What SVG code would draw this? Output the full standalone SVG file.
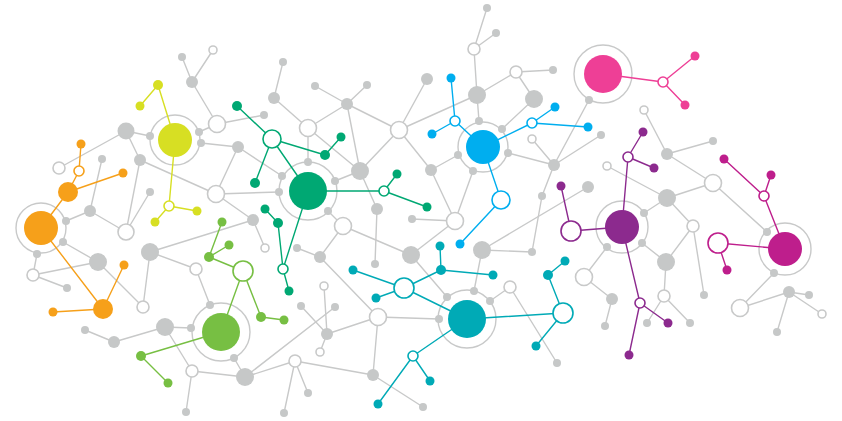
<svg xmlns="http://www.w3.org/2000/svg" width="842" height="421" viewBox="0 0 842 421">
<style>
line{stroke-width:1.4;stroke-linecap:round}
.e line{stroke:#c8c9c9}
.eo{stroke:#f6a01a}.ey{stroke:#d7df23}.el{stroke:#77bf43}.ed{stroke:#00a873}.eb{stroke:#00aeef}.et{stroke:#00aab6}.ep{stroke:#ee3f96}.eu{stroke:#8c2a8e}.em{stroke:#be1e8c}
.g{fill:#c6c8c8}
.h{fill:#fff;stroke:#c8c9c9;stroke-width:1.6}
.r{fill:none;stroke:#c8c9c9;stroke-width:1.4}
.fo{fill:#f6a01a}.fy{fill:#d7df23}.fl{fill:#77bf43}.fd{fill:#00a873}.fb{fill:#00aeef}.ft{fill:#00aab6}.fp{fill:#ee3f96}.fu{fill:#8c2a8e}.fm{fill:#be1e8c}
.ho{fill:#fff;stroke:#f6a01a;stroke-width:1.6}.hy{fill:#fff;stroke:#d7df23;stroke-width:1.6}.hl{fill:#fff;stroke:#77bf43;stroke-width:1.6}.hd{fill:#fff;stroke:#00a873;stroke-width:1.6}.hb{fill:#fff;stroke:#00aeef;stroke-width:1.6}.ht{fill:#fff;stroke:#00aab6;stroke-width:1.6}.hp{fill:#fff;stroke:#ee3f96;stroke-width:1.6}.hu{fill:#fff;stroke:#8c2a8e;stroke-width:1.6}.hm{fill:#fff;stroke:#be1e8c;stroke-width:1.6}
</style>
<g id="rings">
<circle class="r" cx="41" cy="228" r="25"/>
<circle class="r" cx="175" cy="140" r="25"/>
<circle class="r" cx="221" cy="332" r="29"/>
<circle class="r" cx="308" cy="191" r="29"/>
<circle class="r" cx="483" cy="147" r="25"/>
<circle class="r" cx="467" cy="319" r="29"/>
<circle class="r" cx="603" cy="74" r="29"/>
<circle class="r" cx="622" cy="227" r="26"/>
<circle class="r" cx="785" cy="249" r="26"/>
</g>
<g id="connectors">
<g class="e">
<line x1="182" y1="57" x2="192" y2="82"/><line x1="213" y1="50" x2="192" y2="82"/><line x1="192" y1="82" x2="217" y2="124"/><line x1="217" y1="124" x2="264" y2="115"/><line x1="217" y1="124" x2="199" y2="132"/>
<line x1="126" y1="131" x2="150" y2="136"/><line x1="126" y1="131" x2="59" y2="168"/><line x1="126" y1="131" x2="140" y2="160"/><line x1="140" y1="160" x2="216" y2="194"/><line x1="140" y1="160" x2="126" y2="232"/>
<line x1="102" y1="159" x2="90" y2="211"/><line x1="66" y1="221" x2="90" y2="211"/><line x1="90" y1="211" x2="126" y2="232"/><line x1="126" y1="232" x2="150" y2="192"/>
<line x1="201" y1="143" x2="238" y2="147"/><line x1="238" y1="147" x2="216" y2="194"/><line x1="238" y1="147" x2="282" y2="176"/><line x1="216" y1="194" x2="279" y2="192"/><line x1="216" y1="194" x2="253" y2="220"/>
<line x1="253" y1="220" x2="265" y2="248"/><line x1="253" y1="220" x2="150" y2="252"/><line x1="150" y1="252" x2="196" y2="269"/><line x1="150" y1="252" x2="143" y2="307"/><line x1="98" y1="262" x2="143" y2="307"/>
<line x1="63" y1="242" x2="98" y2="262"/><line x1="33" y1="275" x2="98" y2="262"/><line x1="37" y1="254" x2="33" y2="275"/><line x1="33" y1="275" x2="67" y2="288"/><line x1="196" y1="269" x2="210" y2="305"/>
<line x1="165" y1="327" x2="191" y2="328"/><line x1="165" y1="327" x2="114" y2="342"/><line x1="114" y1="342" x2="85" y2="330"/><line x1="165" y1="327" x2="192" y2="371"/><line x1="192" y1="371" x2="245" y2="377"/>
<line x1="192" y1="371" x2="186" y2="412"/><line x1="234" y1="358" x2="245" y2="377"/><line x1="245" y1="377" x2="295" y2="361"/><line x1="245" y1="377" x2="335" y2="307"/><line x1="295" y1="361" x2="308" y2="393"/>
<line x1="295" y1="361" x2="284" y2="413"/><line x1="295" y1="361" x2="373" y2="375"/><line x1="373" y1="375" x2="423" y2="407"/><line x1="378" y1="317" x2="373" y2="375"/><line x1="327" y1="334" x2="378" y2="317"/>
<line x1="301" y1="306" x2="327" y2="334"/><line x1="324" y1="286" x2="327" y2="334"/><line x1="327" y1="334" x2="320" y2="352"/><line x1="378" y1="317" x2="439" y2="319"/><line x1="320" y1="257" x2="378" y2="317"/>
<line x1="320" y1="257" x2="297" y2="248"/><line x1="320" y1="257" x2="343" y2="226"/><line x1="343" y1="226" x2="328" y2="211"/><line x1="343" y1="226" x2="411" y2="255"/><line x1="377" y1="209" x2="375" y2="264"/>
<line x1="360" y1="171" x2="377" y2="209"/><line x1="411" y1="255" x2="455" y2="221"/><line x1="412" y1="219" x2="455" y2="221"/><line x1="411" y1="255" x2="447" y2="297"/><line x1="455" y1="221" x2="431" y2="170"/>
<line x1="455" y1="221" x2="473" y2="171"/><line x1="431" y1="170" x2="458" y2="155"/><line x1="431" y1="170" x2="399" y2="130"/><line x1="399" y1="130" x2="477" y2="95"/><line x1="399" y1="130" x2="427" y2="79"/>
<line x1="399" y1="130" x2="347" y2="104"/><line x1="399" y1="130" x2="360" y2="171"/><line x1="347" y1="104" x2="315" y2="86"/><line x1="347" y1="104" x2="367" y2="85"/><line x1="347" y1="104" x2="308" y2="128"/>
<line x1="347" y1="104" x2="360" y2="171"/><line x1="308" y1="128" x2="360" y2="171"/><line x1="308" y1="128" x2="274" y2="98"/><line x1="274" y1="98" x2="283" y2="62"/><line x1="308" y1="128" x2="308" y2="162"/>
<line x1="335" y1="181" x2="360" y2="171"/><line x1="487" y1="8" x2="474" y2="49"/><line x1="496" y1="33" x2="474" y2="49"/><line x1="474" y1="49" x2="477" y2="95"/><line x1="477" y1="95" x2="516" y2="72"/>
<line x1="516" y1="72" x2="553" y2="70"/><line x1="516" y1="72" x2="534" y2="99"/><line x1="477" y1="95" x2="479" y2="121"/><line x1="534" y1="99" x2="502" y2="129"/><line x1="508" y1="153" x2="554" y2="165"/>
<line x1="532" y1="139" x2="554" y2="165"/><line x1="554" y1="165" x2="589" y2="100"/><line x1="554" y1="165" x2="601" y2="135"/><line x1="554" y1="165" x2="542" y2="196"/><line x1="542" y1="196" x2="532" y2="252"/>
<line x1="482" y1="250" x2="588" y2="187"/><line x1="482" y1="250" x2="532" y2="252"/><line x1="482" y1="250" x2="474" y2="291"/><line x1="490" y1="301" x2="510" y2="287"/><line x1="510" y1="287" x2="557" y2="363"/>
<line x1="607" y1="166" x2="667" y2="198"/><line x1="644" y1="110" x2="667" y2="154"/><line x1="667" y1="154" x2="713" y2="141"/><line x1="667" y1="154" x2="713" y2="183"/><line x1="667" y1="198" x2="713" y2="183"/>
<line x1="713" y1="183" x2="767" y2="232"/><line x1="667" y1="198" x2="693" y2="226"/><line x1="644" y1="213" x2="667" y2="198"/><line x1="607" y1="247" x2="584" y2="277"/><line x1="584" y1="277" x2="612" y2="299"/>
<line x1="612" y1="299" x2="605" y2="326"/><line x1="642" y1="243" x2="666" y2="262"/><line x1="666" y1="262" x2="693" y2="226"/><line x1="666" y1="262" x2="664" y2="296"/><line x1="664" y1="296" x2="647" y2="323"/>
<line x1="664" y1="296" x2="690" y2="323"/><line x1="693" y1="226" x2="704" y2="295"/><line x1="774" y1="273" x2="740" y2="308"/><line x1="740" y1="308" x2="789" y2="292"/><line x1="789" y1="292" x2="809" y2="295"/>
<line x1="789" y1="292" x2="822" y2="314"/><line x1="789" y1="292" x2="777" y2="332"/>
</g>
<g class="eo"><line x1="68" y1="192" x2="41" y2="228"/><line x1="68" y1="192" x2="79" y2="171"/><line x1="79" y1="171" x2="81" y2="144"/><line x1="68" y1="192" x2="123" y2="173"/><line x1="41" y1="228" x2="103" y2="309"/><line x1="103" y1="309" x2="124" y2="265"/><line x1="103" y1="309" x2="53" y2="312"/></g>
<g class="ey"><line x1="158" y1="85" x2="140" y2="106"/><line x1="158" y1="85" x2="175" y2="140"/><line x1="175" y1="140" x2="169" y2="206"/><line x1="169" y1="206" x2="155" y2="222"/><line x1="169" y1="206" x2="197" y2="211"/></g>
<g class="el"><line x1="222" y1="222" x2="209" y2="257"/><line x1="229" y1="245" x2="209" y2="257"/><line x1="209" y1="257" x2="243" y2="271"/><line x1="243" y1="271" x2="221" y2="332"/><line x1="243" y1="271" x2="261" y2="317"/><line x1="261" y1="317" x2="284" y2="320"/><line x1="141" y1="356" x2="221" y2="332"/><line x1="141" y1="356" x2="168" y2="383"/></g>
<g class="ed"><line x1="237" y1="106" x2="272" y2="139"/><line x1="272" y1="139" x2="325" y2="155"/><line x1="325" y1="155" x2="341" y2="137"/><line x1="272" y1="139" x2="308" y2="191"/><line x1="272" y1="139" x2="255" y2="183"/><line x1="308" y1="191" x2="384" y2="191"/><line x1="384" y1="191" x2="397" y2="174"/><line x1="384" y1="191" x2="427" y2="207"/><line x1="265" y1="209" x2="278" y2="223"/><line x1="278" y1="223" x2="283" y2="269"/><line x1="308" y1="191" x2="283" y2="269"/><line x1="283" y1="269" x2="289" y2="291"/></g>
<g class="eb"><line x1="451" y1="78" x2="455" y2="121"/><line x1="432" y1="134" x2="455" y2="121"/><line x1="455" y1="121" x2="483" y2="147"/><line x1="483" y1="147" x2="532" y2="123"/><line x1="532" y1="123" x2="555" y2="107"/><line x1="532" y1="123" x2="588" y2="127"/><line x1="483" y1="147" x2="501" y2="200"/><line x1="501" y1="200" x2="460" y2="244"/></g>
<g class="et"><line x1="440" y1="246" x2="441" y2="270"/><line x1="441" y1="270" x2="493" y2="275"/><line x1="441" y1="270" x2="404" y2="288"/><line x1="353" y1="270" x2="404" y2="288"/><line x1="376" y1="298" x2="404" y2="288"/><line x1="404" y1="288" x2="467" y2="319"/><line x1="467" y1="319" x2="563" y2="313"/><line x1="563" y1="313" x2="548" y2="275"/><line x1="548" y1="275" x2="565" y2="261"/><line x1="563" y1="313" x2="536" y2="346"/><line x1="467" y1="319" x2="413" y2="356"/><line x1="413" y1="356" x2="430" y2="381"/><line x1="413" y1="356" x2="378" y2="404"/></g>
<g class="ep"><line x1="603" y1="74" x2="663" y2="82"/><line x1="663" y1="82" x2="695" y2="56"/><line x1="663" y1="82" x2="685" y2="105"/></g>
<g class="eu"><line x1="571" y1="231" x2="622" y2="227"/><line x1="561" y1="186" x2="571" y2="231"/><line x1="628" y1="157" x2="622" y2="227"/><line x1="628" y1="157" x2="643" y2="132"/><line x1="628" y1="157" x2="654" y2="168"/><line x1="622" y1="227" x2="640" y2="303"/><line x1="640" y1="303" x2="668" y2="323"/><line x1="640" y1="303" x2="629" y2="355"/></g>
<g class="em"><line x1="718" y1="243" x2="785" y2="249"/><line x1="718" y1="243" x2="727" y2="270"/><line x1="764" y1="196" x2="785" y2="249"/><line x1="724" y1="159" x2="764" y2="196"/><line x1="771" y1="175" x2="764" y2="196"/></g>
</g>
<g id="gray-nodes">
<g id="g1"><circle class="g" cx="126" cy="131" r="8.5"/></g><g id="g2"><circle class="g" cx="98" cy="262" r="9"/></g><g id="g3"><circle class="g" cx="150" cy="252" r="9"/></g><g id="g4"><circle class="g" cx="165" cy="327" r="9"/></g>
<g id="g5"><circle class="g" cx="245" cy="377" r="9"/></g><g id="g6"><circle class="g" cx="360" cy="171" r="9"/></g><g id="g7"><circle class="g" cx="411" cy="255" r="9"/></g><g id="g8"><circle class="g" cx="477" cy="95" r="9"/></g>
<g id="g9"><circle class="g" cx="534" cy="99" r="9"/></g><g id="g10"><circle class="g" cx="482" cy="250" r="9"/></g><g id="g11"><circle class="g" cx="667" cy="198" r="9"/></g><g id="g12"><circle class="g" cx="666" cy="262" r="9"/></g>
<g id="g13"><circle class="g" cx="192" cy="82" r="6"/></g><g id="g14"><circle class="g" cx="238" cy="147" r="6"/></g><g id="g15"><circle class="g" cx="140" cy="160" r="6"/></g><g id="g16"><circle class="g" cx="90" cy="211" r="6"/></g>
<g id="g17"><circle class="g" cx="253" cy="220" r="6"/></g><g id="g18"><circle class="g" cx="274" cy="98" r="6"/></g><g id="g19"><circle class="g" cx="347" cy="104" r="6"/></g><g id="g20"><circle class="g" cx="320" cy="257" r="6"/></g>
<g id="g21"><circle class="g" cx="377" cy="209" r="6"/></g><g id="g22"><circle class="g" cx="327" cy="334" r="6"/></g><g id="g23"><circle class="g" cx="373" cy="375" r="6"/></g><g id="g24"><circle class="g" cx="431" cy="170" r="6"/></g>
<g id="g25"><circle class="g" cx="114" cy="342" r="6"/></g><g id="g26"><circle class="g" cx="554" cy="165" r="6"/></g><g id="g27"><circle class="g" cx="588" cy="187" r="6"/></g><g id="g28"><circle class="g" cx="612" cy="299" r="6"/></g>
<g id="g29"><circle class="g" cx="667" cy="154" r="6"/></g><g id="g30"><circle class="g" cx="789" cy="292" r="6"/></g><g id="g31"><circle class="g" cx="427" cy="79" r="6"/></g>
<g id="g32"><circle class="g" cx="182" cy="57" r="4"/></g><g id="g33"><circle class="g" cx="150" cy="136" r="4"/></g><g id="g34"><circle class="g" cx="199" cy="132" r="4"/></g><g id="g35"><circle class="g" cx="201" cy="143" r="4"/></g>
<g id="g36"><circle class="g" cx="264" cy="115" r="4"/></g><g id="g37"><circle class="g" cx="102" cy="159" r="4"/></g><g id="g38"><circle class="g" cx="66" cy="221" r="4"/></g><g id="g39"><circle class="g" cx="63" cy="242" r="4"/></g>
<g id="g40"><circle class="g" cx="37" cy="254" r="4"/></g><g id="g41"><circle class="g" cx="67" cy="288" r="4"/></g><g id="g42"><circle class="g" cx="150" cy="192" r="4"/></g><g id="g43"><circle class="g" cx="283" cy="62" r="4"/></g>
<g id="g44"><circle class="g" cx="315" cy="86" r="4"/></g><g id="g45"><circle class="g" cx="367" cy="85" r="4"/></g><g id="g46"><circle class="g" cx="308" cy="162" r="4"/></g><g id="g47"><circle class="g" cx="282" cy="176" r="4"/></g>
<g id="g48"><circle class="g" cx="279" cy="192" r="4"/></g><g id="g49"><circle class="g" cx="335" cy="181" r="4"/></g><g id="g50"><circle class="g" cx="328" cy="211" r="4"/></g><g id="g51"><circle class="g" cx="297" cy="248" r="4"/></g>
<g id="g52"><circle class="g" cx="375" cy="264" r="4"/></g><g id="g53"><circle class="g" cx="412" cy="219" r="4"/></g><g id="g54"><circle class="g" cx="447" cy="297" r="4"/></g><g id="g55"><circle class="g" cx="474" cy="291" r="4"/></g>
<g id="g56"><circle class="g" cx="490" cy="301" r="4"/></g><g id="g57"><circle class="g" cx="439" cy="319" r="4"/></g><g id="g58"><circle class="g" cx="301" cy="306" r="4"/></g><g id="g59"><circle class="g" cx="335" cy="307" r="4"/></g>
<g id="g60"><circle class="g" cx="308" cy="393" r="4"/></g><g id="g61"><circle class="g" cx="284" cy="413" r="4"/></g><g id="g62"><circle class="g" cx="423" cy="407" r="4"/></g><g id="g63"><circle class="g" cx="186" cy="412" r="4"/></g>
<g id="g64"><circle class="g" cx="85" cy="330" r="4"/></g><g id="g65"><circle class="g" cx="191" cy="328" r="4"/></g><g id="g66"><circle class="g" cx="234" cy="358" r="4"/></g><g id="g67"><circle class="g" cx="210" cy="305" r="4"/></g>
<g id="g68"><circle class="g" cx="487" cy="8" r="4"/></g><g id="g69"><circle class="g" cx="496" cy="33" r="4"/></g><g id="g70"><circle class="g" cx="553" cy="70" r="4"/></g><g id="g71"><circle class="g" cx="479" cy="121" r="4"/></g>
<g id="g72"><circle class="g" cx="502" cy="129" r="4"/></g><g id="g73"><circle class="g" cx="508" cy="153" r="4"/></g><g id="g74"><circle class="g" cx="458" cy="155" r="4"/></g><g id="g75"><circle class="g" cx="473" cy="171" r="4"/></g>
<g id="g76"><circle class="g" cx="542" cy="196" r="4"/></g><g id="g77"><circle class="g" cx="532" cy="252" r="4"/></g><g id="g78"><circle class="g" cx="557" cy="363" r="4"/></g><g id="g79"><circle class="g" cx="589" cy="100" r="4"/></g>
<g id="g80"><circle class="g" cx="601" cy="135" r="4"/></g><g id="g81"><circle class="g" cx="713" cy="141" r="4"/></g><g id="g82"><circle class="g" cx="644" cy="213" r="4"/></g><g id="g83"><circle class="g" cx="607" cy="247" r="4"/></g>
<g id="g84"><circle class="g" cx="642" cy="243" r="4"/></g><g id="g85"><circle class="g" cx="605" cy="326" r="4"/></g><g id="g86"><circle class="g" cx="647" cy="323" r="4"/></g><g id="g87"><circle class="g" cx="690" cy="323" r="4"/></g>
<g id="g88"><circle class="g" cx="704" cy="295" r="4"/></g><g id="g89"><circle class="g" cx="767" cy="232" r="4"/></g><g id="g90"><circle class="g" cx="774" cy="273" r="4"/></g><g id="g91"><circle class="g" cx="809" cy="295" r="4"/></g>
<g id="g92"><circle class="g" cx="777" cy="332" r="4"/></g>
</g>
<g id="hollow-nodes">
<g id="h1"><circle class="h" cx="217" cy="124" r="8.5"/></g><g id="h2"><circle class="h" cx="216" cy="194" r="8.5"/></g><g id="h3"><circle class="h" cx="126" cy="232" r="8"/></g><g id="h4"><circle class="h" cx="308" cy="128" r="8.5"/></g>
<g id="h5"><circle class="h" cx="399" cy="130" r="8.5"/></g><g id="h6"><circle class="h" cx="343" cy="226" r="8.5"/></g><g id="h7"><circle class="h" cx="455" cy="221" r="8.5"/></g><g id="h8"><circle class="h" cx="378" cy="317" r="8.5"/></g>
<g id="h9"><circle class="h" cx="584" cy="277" r="8.5"/></g><g id="h10"><circle class="h" cx="713" cy="183" r="8.5"/></g><g id="h11"><circle class="h" cx="740" cy="308" r="8.5"/></g>
<g id="h12"><circle class="h" cx="59" cy="168" r="6"/></g><g id="h13"><circle class="h" cx="33" cy="275" r="6"/></g><g id="h14"><circle class="h" cx="143" cy="307" r="6"/></g><g id="h15"><circle class="h" cx="196" cy="269" r="6"/></g>
<g id="h16"><circle class="h" cx="295" cy="361" r="6"/></g><g id="h17"><circle class="h" cx="192" cy="371" r="6"/></g><g id="h18"><circle class="h" cx="474" cy="49" r="6"/></g><g id="h19"><circle class="h" cx="516" cy="72" r="6"/></g>
<g id="h20"><circle class="h" cx="510" cy="287" r="6"/></g><g id="h21"><circle class="h" cx="693" cy="226" r="6"/></g><g id="h22"><circle class="h" cx="664" cy="296" r="6"/></g>
<g id="h23"><circle class="h" cx="213" cy="50" r="4"/></g><g id="h24"><circle class="h" cx="265" cy="248" r="4"/></g><g id="h25"><circle class="h" cx="324" cy="286" r="4"/></g><g id="h26"><circle class="h" cx="320" cy="352" r="4"/></g>
<g id="h27"><circle class="h" cx="532" cy="139" r="4"/></g><g id="h28"><circle class="h" cx="607" cy="166" r="4"/></g><g id="h29"><circle class="h" cx="644" cy="110" r="4"/></g><g id="h30"><circle class="h" cx="822" cy="314" r="4"/></g>
</g>
<g id="orange">
<g id="o-hub"><circle class="fo" cx="41" cy="228" r="17"/></g><g id="o1"><circle class="fo" cx="68" cy="192" r="10"/></g><g id="o2"><circle class="ho" cx="79" cy="171" r="5"/></g><g id="o3"><circle class="fo" cx="81" cy="144" r="4.5"/></g>
<g id="o4"><circle class="fo" cx="123" cy="173" r="4.5"/></g><g id="o5"><circle class="fo" cx="103" cy="309" r="10"/></g><g id="o6"><circle class="fo" cx="124" cy="265" r="4.5"/></g><g id="o7"><circle class="fo" cx="53" cy="312" r="4.5"/></g>
</g>
<g id="yellow">
<g id="y-hub"><circle class="fy" cx="175" cy="140" r="17"/></g><g id="y1"><circle class="fy" cx="158" cy="85" r="5"/></g><g id="y2"><circle class="fy" cx="140" cy="106" r="4.5"/></g><g id="y3"><circle class="hy" cx="169" cy="206" r="5"/></g>
<g id="y4"><circle class="fy" cx="155" cy="222" r="4.5"/></g><g id="y5"><circle class="fy" cx="197" cy="211" r="4.5"/></g>
</g>
<g id="lightgreen">
<g id="l-hub"><circle class="fl" cx="221" cy="332" r="19"/></g><g id="l1"><circle class="hl" cx="243" cy="271" r="10"/></g><g id="l2"><circle class="fl" cx="209" cy="257" r="5"/></g><g id="l3"><circle class="fl" cx="222" cy="222" r="4.5"/></g>
<g id="l4"><circle class="fl" cx="229" cy="245" r="4.5"/></g><g id="l5"><circle class="fl" cx="261" cy="317" r="5"/></g><g id="l6"><circle class="fl" cx="284" cy="320" r="4.5"/></g><g id="l7"><circle class="fl" cx="141" cy="356" r="5"/></g>
<g id="l8"><circle class="fl" cx="168" cy="383" r="4.5"/></g>
</g>
<g id="green">
<g id="d-hub"><circle class="fd" cx="308" cy="191" r="19"/></g><g id="d1"><circle class="hd" cx="272" cy="139" r="9"/></g><g id="d2"><circle class="fd" cx="237" cy="106" r="5"/></g><g id="d3"><circle class="fd" cx="325" cy="155" r="5"/></g>
<g id="d4"><circle class="fd" cx="341" cy="137" r="4.5"/></g><g id="d5"><circle class="fd" cx="255" cy="183" r="5"/></g><g id="d6"><circle class="hd" cx="384" cy="191" r="5"/></g><g id="d7"><circle class="fd" cx="397" cy="174" r="4.5"/></g>
<g id="d8"><circle class="fd" cx="427" cy="207" r="4.5"/></g><g id="d9"><circle class="fd" cx="265" cy="209" r="4.5"/></g><g id="d10"><circle class="fd" cx="278" cy="223" r="5"/></g><g id="d11"><circle class="hd" cx="283" cy="269" r="5"/></g>
<g id="d12"><circle class="fd" cx="289" cy="291" r="4.5"/></g>
</g>
<g id="blue">
<g id="b-hub"><circle class="fb" cx="483" cy="147" r="17"/></g><g id="b1"><circle class="hb" cx="455" cy="121" r="5"/></g><g id="b2"><circle class="fb" cx="451" cy="78" r="4.5"/></g><g id="b3"><circle class="fb" cx="432" cy="134" r="4.5"/></g>
<g id="b4"><circle class="hb" cx="532" cy="123" r="5"/></g><g id="b5"><circle class="fb" cx="555" cy="107" r="4.5"/></g><g id="b6"><circle class="fb" cx="588" cy="127" r="4.5"/></g><g id="b7"><circle class="hb" cx="501" cy="200" r="9"/></g>
<g id="b8"><circle class="fb" cx="460" cy="244" r="4.5"/></g>
</g>
<g id="teal">
<g id="t-hub"><circle class="ft" cx="467" cy="319" r="19"/></g><g id="t1"><circle class="ht" cx="404" cy="288" r="10"/></g><g id="t2"><circle class="ft" cx="440" cy="246" r="4.5"/></g><g id="t3"><circle class="ft" cx="441" cy="270" r="5"/></g>
<g id="t4"><circle class="ft" cx="493" cy="275" r="4.5"/></g><g id="t5"><circle class="ft" cx="353" cy="270" r="4.5"/></g><g id="t6"><circle class="ft" cx="376" cy="298" r="4.5"/></g><g id="t7"><circle class="ht" cx="563" cy="313" r="10"/></g>
<g id="t8"><circle class="ft" cx="548" cy="275" r="5"/></g><g id="t9"><circle class="ft" cx="565" cy="261" r="4.5"/></g><g id="t10"><circle class="ft" cx="536" cy="346" r="4.5"/></g><g id="t11"><circle class="ht" cx="413" cy="356" r="5"/></g>
<g id="t12"><circle class="ft" cx="430" cy="381" r="4.5"/></g><g id="t13"><circle class="ft" cx="378" cy="404" r="4.5"/></g>
</g>
<g id="pink">
<g id="p-hub"><circle class="fp" cx="603" cy="74" r="19"/></g><g id="p1"><circle class="hp" cx="663" cy="82" r="5"/></g><g id="p2"><circle class="fp" cx="695" cy="56" r="4.5"/></g><g id="p3"><circle class="fp" cx="685" cy="105" r="4.5"/></g>
</g>
<g id="purple">
<g id="u-hub"><circle class="fu" cx="622" cy="227" r="17"/></g><g id="u1"><circle class="hu" cx="571" cy="231" r="10"/></g><g id="u2"><circle class="fu" cx="561" cy="186" r="4.5"/></g><g id="u3"><circle class="hu" cx="628" cy="157" r="5"/></g>
<g id="u4"><circle class="fu" cx="643" cy="132" r="4.5"/></g><g id="u5"><circle class="fu" cx="654" cy="168" r="4.5"/></g><g id="u6"><circle class="hu" cx="640" cy="303" r="5"/></g><g id="u7"><circle class="fu" cx="668" cy="323" r="4.5"/></g>
<g id="u8"><circle class="fu" cx="629" cy="355" r="4.5"/></g>
</g>
<g id="magenta">
<g id="m-hub"><circle class="fm" cx="785" cy="249" r="17"/></g><g id="m1"><circle class="hm" cx="718" cy="243" r="10"/></g><g id="m2"><circle class="fm" cx="727" cy="270" r="4.5"/></g><g id="m3"><circle class="hm" cx="764" cy="196" r="5"/></g>
<g id="m4"><circle class="fm" cx="724" cy="159" r="4.5"/></g><g id="m5"><circle class="fm" cx="771" cy="175" r="4.5"/></g>
</g>
</svg>
